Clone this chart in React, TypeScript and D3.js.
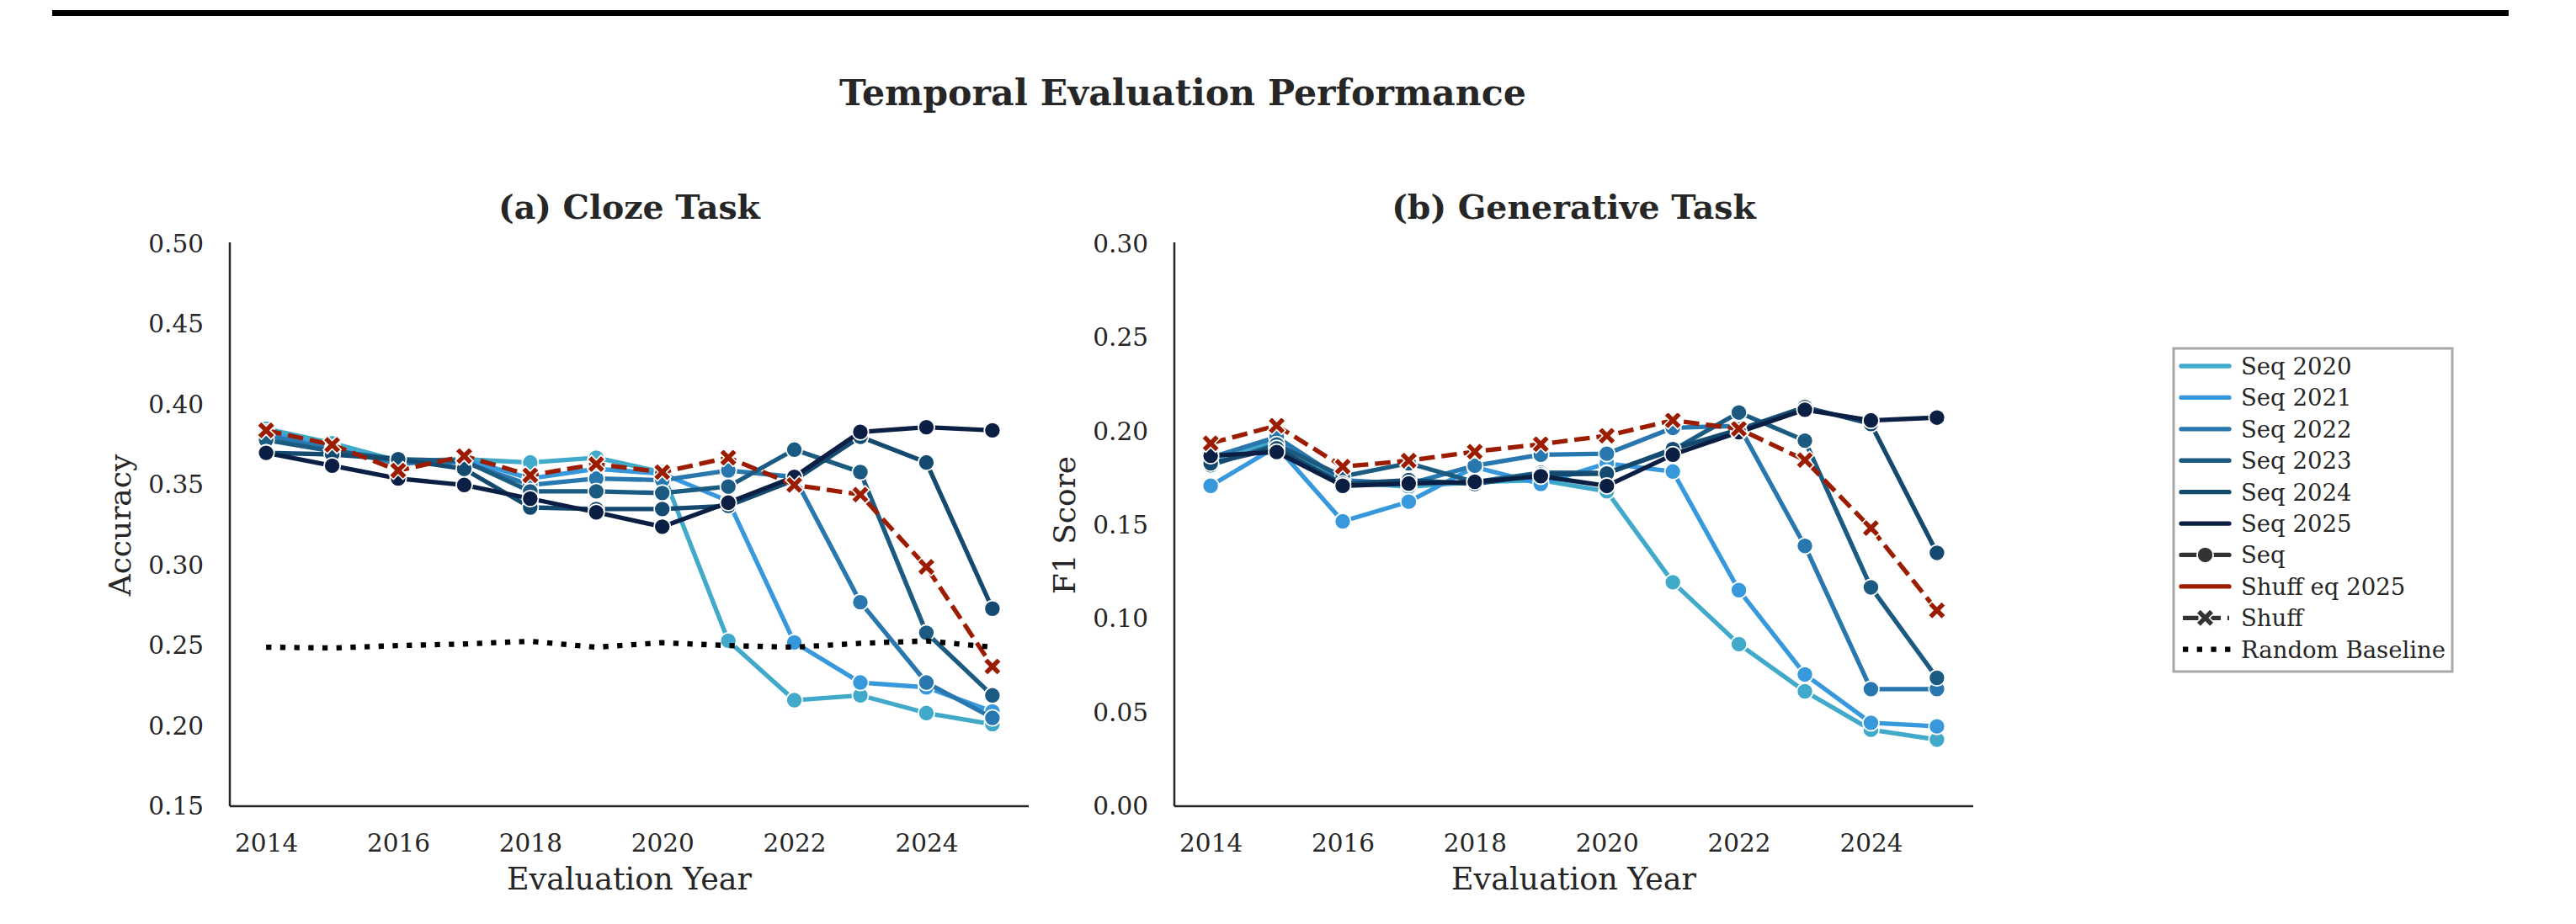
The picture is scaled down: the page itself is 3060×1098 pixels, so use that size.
import React, { useEffect, useRef } from 'react'
import * as d3 from 'd3'

const W = 3060
const H = 1098

// evaluation years on the x axis
const years = [2014, 2015, 2016, 2017, 2018, 2019, 2020, 2021, 2022, 2023, 2024, 2025]
const yearTicks = [2014, 2016, 2018, 2020, 2022, 2024]

const seqLabels = ['Seq 2020', 'Seq 2021', 'Seq 2022', 'Seq 2023', 'Seq 2024', 'Seq 2025']
const seqColors = ['#41a9c9', '#3799dc', '#2877ae', '#1b5b82', '#154a70', '#0b1f45']
const shuffColor = '#9c1c00'

// (a) cloze accuracy
const clozeSeq2020 = [0.385, 0.376, 0.365, 0.366, 0.364, 0.367, 0.358, 0.253, 0.216, 0.219, 0.208, 0.201]
const clozeSeq2021 = [0.383, 0.373, 0.363, 0.366, 0.354, 0.360, 0.357, 0.340, 0.252, 0.227, 0.224, 0.209]
const clozeSeq2022 = [0.381, 0.372, 0.364, 0.364, 0.350, 0.354, 0.353, 0.359, 0.355, 0.277, 0.227, 0.205]
const clozeSeq2023 = [0.378, 0.371, 0.366, 0.365, 0.346, 0.346, 0.345, 0.349, 0.372, 0.358, 0.258, 0.219]
const clozeSeq2024 = [0.370, 0.369, 0.366, 0.360, 0.336, 0.335, 0.335, 0.337, 0.353, 0.380, 0.364, 0.273]
const clozeSeq2025 = [0.370, 0.362, 0.354, 0.350, 0.3415, 0.333, 0.324, 0.339, 0.355, 0.383, 0.386, 0.384]
const clozeShuff = [0.384, 0.375, 0.359, 0.368, 0.356, 0.363, 0.358, 0.367, 0.350, 0.344, 0.299, 0.237]
const clozeRandom = [0.249, 0.2485, 0.250, 0.251, 0.2527, 0.249, 0.2518, 0.250, 0.249, 0.2514, 0.2529, 0.249]

// (b) generative F1
const genSeq2020 = [0.185, 0.195, 0.173, 0.1705, 0.173, 0.174, 0.168, 0.1195, 0.0865, 0.0613, 0.0408, 0.0355]
const genSeq2021 = [0.171, 0.192, 0.152, 0.1625, 0.181, 0.172, 0.183, 0.1786, 0.1153, 0.0703, 0.0445, 0.0426]
const genSeq2022 = [0.186, 0.197, 0.174, 0.172, 0.1817, 0.1876, 0.1881, 0.2019, 0.203, 0.1389, 0.0625, 0.0625]
const genSeq2023 = [0.182, 0.193, 0.176, 0.183, 0.173, 0.178, 0.1779, 0.190, 0.2101, 0.1951, 0.1168, 0.0685]
const genSeq2024 = [0.183, 0.191, 0.172, 0.174, 0.172, 0.177, 0.1775, 0.1906, 0.201, 0.213, 0.204, 0.1352]
const genSeq2025 = [0.187, 0.189, 0.171, 0.1722, 0.1731, 0.1761, 0.1709, 0.1876, 0.1996, 0.2116, 0.2059, 0.2074]
const genShuff = [0.1937, 0.2031, 0.1812, 0.1844, 0.1892, 0.1932, 0.1977, 0.2059, 0.2014, 0.1847, 0.1484, 0.1045]

const clozeTicks = [0.15, 0.2, 0.25, 0.3, 0.35, 0.4, 0.45, 0.5]
const genTicks = [0, 0.05, 0.1, 0.15, 0.2, 0.25, 0.3]

const legendLabels = [...seqLabels, 'Seq', 'Shuff eq 2025', 'Shuff', 'Random Baseline']

const FONT = '"DejaVu Serif", serif'
const INK = '#262626'
const LW = 5.3
const R = 9.6

// filled "X" marker, a plus rotated by 45 degrees
const xMarker = (cx: number, cy: number, a = 3.5, L = 11.5) => {
  const pts = [[a, -L], [a, -a], [L, -a], [L, a], [a, a], [a, L], [-a, L], [-a, a], [-L, a], [-L, -a], [-a, -a], [-a, -L]]
  const c = Math.SQRT1_2
  return 'M' + pts.map(([px, py]) => `${cx + (px - py) * c},${cy + (px + py) * c}`).join('L') + 'Z'
}

const TOP = 290
const BOTTOM = 958

function drawPanel(svg: any, opts: any) {
  const { left, right, yDomain, ticks, seq, shuff, random, title, ylabel } = opts
  const x = d3.scaleLinear().domain([2013.45, 2025.55]).range([left, right])
  const y = d3.scaleLinear().domain(yDomain).range([BOTTOM, TOP])
  const g = svg.append('g')

  g.append('g')
    .attr('transform', `translate(${left},0)`)
    .call(d3.axisLeft(y).tickValues(ticks).tickFormat(d3.format('.2f')).tickSize(0).tickPadding(31))
    .call((a: any) => a.select('.domain').remove())
    .attr('font-family', FONT).attr('font-size', 29.5)
    .selectAll('text').attr('fill', INK)

  g.append('g')
    .attr('transform', `translate(0,${BOTTOM})`)
    .call(d3.axisBottom(x).tickValues(yearTicks).tickFormat(d3.format('d')).tickSize(0).tickPadding(33))
    .call((a: any) => a.select('.domain').remove())
    .attr('font-family', FONT).attr('font-size', 29.5)
    .selectAll('text').attr('fill', INK)

  // spines
  g.append('line').attr('x1', left).attr('x2', left).attr('y1', TOP - 2).attr('y2', BOTTOM)
    .attr('stroke', INK).attr('stroke-width', 2.5)
  g.append('line').attr('x1', left).attr('x2', right).attr('y1', BOTTOM).attr('y2', BOTTOM)
    .attr('stroke', INK).attr('stroke-width', 2.5)

  const line = d3.line<number>().x((_, j) => x(years[j])).y(d => y(d))

  seq.forEach((vals: number[], i: number) => {
    g.append('path').attr('d', line(vals)).attr('fill', 'none')
      .attr('stroke', seqColors[i]).attr('stroke-width', LW)
      .attr('stroke-linejoin', 'round').attr('stroke-linecap', 'round')
    g.selectAll(null).data(vals).join('circle')
      .attr('cx', (_: number, j: number) => x(years[j])).attr('cy', (d: number) => y(d))
      .attr('r', R).attr('fill', seqColors[i]).attr('stroke', '#fff').attr('stroke-width', 1.8)
  })

  g.append('path').attr('d', line(shuff)).attr('fill', 'none')
    .attr('stroke', shuffColor).attr('stroke-width', LW).attr('stroke-dasharray', '18.5,8')
  g.selectAll(null).data(shuff).join('path')
    .attr('d', (d: number, j: number) => xMarker(x(years[j]), y(d)))
    .attr('fill', shuffColor).attr('stroke', '#fff').attr('stroke-width', 1.6)

  if (random) {
    g.append('path').attr('d', line(random)).attr('fill', 'none')
      .attr('stroke', '#000').attr('stroke-width', 6.3).attr('stroke-dasharray', '6.3,10.4')
  }

  g.append('text').attr('x', (left + right) / 2).attr('y', 260).attr('text-anchor', 'middle')
    .attr('font-family', FONT).attr('font-weight', 'bold').attr('font-size', 39.4).attr('fill', INK)
    .text(title)

  g.append('text').attr('x', (left + right) / 2).attr('y', 1057).attr('text-anchor', 'middle')
    .attr('font-family', FONT).attr('font-size', 36.5).attr('fill', INK)
    .text('Evaluation Year')

  g.append('text').attr('transform', `translate(${left - 118},${(TOP + BOTTOM) / 2}) rotate(-90)`)
    .attr('text-anchor', 'middle')
    .attr('font-family', FONT).attr('font-size', 36).attr('fill', INK)
    .text(ylabel)
}

function drawLegend(svg: any) {
  const g = svg.append('g')
  g.append('rect').attr('x', 2582).attr('y', 414).attr('width', 331).attr('height', 384)
    .attr('fill', '#fff').attr('stroke', '#a8a8a8').attr('stroke-width', 3)
  const row = d3.scalePoint<string>().domain(legendLabels).range([435, 771.7])
  const x0 = 2591, x1 = 2648, xm = (x0 + x1) / 2

  legendLabels.forEach((label, i) => {
    const cy = row(label) as number
    if (i < 6 || label === 'Shuff eq 2025') {
      g.append('line').attr('x1', x0).attr('x2', x1).attr('y1', cy).attr('y2', cy)
        .attr('stroke', i < 6 ? seqColors[i] : shuffColor).attr('stroke-width', LW).attr('stroke-linecap', 'round')
    } else if (label === 'Seq') {
      g.append('line').attr('x1', x0).attr('x2', x1).attr('y1', cy).attr('y2', cy)
        .attr('stroke', '#333').attr('stroke-width', LW).attr('stroke-linecap', 'round')
      g.append('circle').attr('cx', xm).attr('cy', cy).attr('r', R)
        .attr('fill', '#333').attr('stroke', '#fff').attr('stroke-width', 1.8)
    } else if (label === 'Shuff') {
      g.append('line').attr('x1', x0 + 2).attr('x2', x1).attr('y1', cy).attr('y2', cy)
        .attr('stroke', '#333').attr('stroke-width', LW).attr('stroke-dasharray', '18.5,8')
      g.append('path').attr('d', xMarker(xm, cy)).attr('fill', '#333').attr('stroke', '#fff').attr('stroke-width', 1.6)
    } else {
      g.append('line').attr('x1', x0 + 2).attr('x2', x1 + 2).attr('y1', cy).attr('y2', cy)
        .attr('stroke', '#000').attr('stroke-width', 6.3).attr('stroke-dasharray', '6.3,10.4')
    }
    g.append('text').attr('x', 2662).attr('y', cy + 10)
      .attr('font-family', FONT).attr('font-size', 27.5).attr('fill', INK)
      .text(label)
  })
}

const App = () => {
  const svgRef = useRef<SVGSVGElement>(null)

  useEffect(() => {
    const svg = d3.select(svgRef.current)
    svg.selectAll('*').remove()

    svg.append('rect').attr('width', W).attr('height', H).attr('fill', '#fff')
    // page rule above the figure
    svg.append('rect').attr('x', 62).attr('y', 12).attr('width', 2918).attr('height', 7).attr('fill', '#000')

    svg.append('text').attr('x', 1405).attr('y', 125).attr('text-anchor', 'middle')
      .attr('font-family', FONT).attr('font-weight', 'bold').attr('font-size', 42.7).attr('fill', INK)
      .text('Temporal Evaluation Performance')

    drawPanel(svg, {
      left: 273, right: 1222, yDomain: [0.15, 0.5], ticks: clozeTicks,
      seq: [clozeSeq2020, clozeSeq2021, clozeSeq2022, clozeSeq2023, clozeSeq2024, clozeSeq2025],
      shuff: clozeShuff, random: clozeRandom, title: '(a) Cloze Task', ylabel: 'Accuracy',
    })
    drawPanel(svg, {
      left: 1395, right: 2344, yDomain: [0, 0.3], ticks: genTicks,
      seq: [genSeq2020, genSeq2021, genSeq2022, genSeq2023, genSeq2024, genSeq2025],
      shuff: genShuff, random: null, title: '(b) Generative Task', ylabel: 'F1 Score',
    })
    drawLegend(svg)
  }, [])

  return (
    <svg ref={svgRef} width={W} height={H} style={{ position: 'absolute', left: 0, top: 0, display: 'block' }} />
  )
}

export default App
